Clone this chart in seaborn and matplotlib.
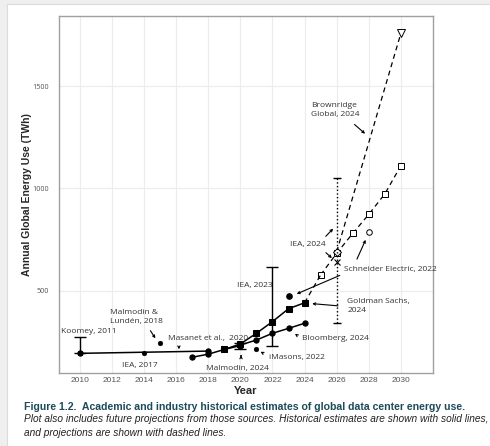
import matplotlib
matplotlib.use('Agg')
import matplotlib.pyplot as plt
from matplotlib.patches import Rectangle
import seaborn as sns
import pandas as pd

# historical estimates (solid lines)
masanet_years = [2010, 2018]
masanet_twh = [194, 205]
iea2017_years = [2014]
iea2017_twh = [195]
koomey_years = [2010]
koomey_twh = [196]
koomey_high = [272]
lunden_years = [2015]
lunden_twh = [245]
malmodin_years = [2017, 2018, 2019, 2020]
malmodin_twh = [175, 190, 213, 232]
malmodin_err = [213, 244]
iea2023_years = [2019, 2020, 2021, 2022, 2023, 2024]
iea2023_twh = [213, 240, 292, 349, 412, 441]
iea2023_range = [228, 617]
bloomberg_years = [2020, 2021, 2022, 2023, 2024]
bloomberg_twh = [235, 259, 292, 316, 341]
imasons_years = [2021]
imasons_twh = [213]
schneider_years = [2023, 2028]
schneider_twh = [474, 789]

# projections (dashed lines)
goldman_years = [2024, 2025, 2026, 2027, 2028, 2029, 2030]
goldman_twh = [441, 577, 683, 780, 873, 973, 1111]
brownridge_years = [2026, 2030]
brownridge_twh = [690, 1758]
iea2024_years = [2026]
iea2024_twh = [642]
iea2024_range = [341, 1049]

sns.set_theme(style='whitegrid')
ann_font = ['Liberation Sans Narrow', 'Open Sans', 'DejaVu Sans']
plt.rcParams['font.family'] = ['Liberation Sans', 'DejaVu Sans']

fig = plt.figure(figsize=(4.9, 4.46), dpi=100)
fig.patch.set_facecolor('#efefef')
fig.patches.append(Rectangle((7 / 490, 0), 1, 1 - 4 / 446, transform=fig.transFigure,
                             facecolor='white', edgecolor='#dcdcdc', lw=0.8, zorder=-1))
ax = fig.add_axes([59 / 490, 1 - 373 / 446, 374 / 490, 357 / 446])
ax.set_facecolor('white')

k = dict(color='black', ax=ax, legend=False)
sns.lineplot(x=masanet_years, y=masanet_twh, marker='o', markersize=3.8, lw=1.1, mec='black', **k)
sns.scatterplot(x=iea2017_years + koomey_years + lunden_years + imasons_years,
                y=iea2017_twh + koomey_twh + lunden_twh + imasons_twh,
                s=12, color='black', edgecolor='black', ax=ax, zorder=5)
sns.lineplot(x=malmodin_years, y=malmodin_twh, marker='o', markersize=3.8, lw=1.1, mec='black', **k)
sns.lineplot(x=iea2023_years, y=iea2023_twh, marker='s', markersize=4.3, lw=1.1, mec='black', **k)
sns.lineplot(x=bloomberg_years, y=bloomberg_twh, marker='o', markersize=3.8, lw=1.1, mec='black', **k)

sns.lineplot(x=goldman_years[1:], y=goldman_twh[1:], marker='s', markersize=4.5, lw=0.9,
             linestyle=(0, (4, 3)), mfc='white', mec='black', mew=0.7, **k)
sns.lineplot(x=goldman_years[:2], y=goldman_twh[:2], lw=0.9, linestyle=(0, (4, 3)), **k)
sns.lineplot(x=brownridge_years, y=brownridge_twh, lw=0.9, linestyle=(0, (4, 3)), **k)
ax.plot(brownridge_years[-1], brownridge_twh[-1], marker='v', ms=5.5, mfc='white', mec='black', mew=0.7)
ax.plot(brownridge_years[0], brownridge_twh[0], marker='D', ms=3.8, mfc='white', mec='black', mew=0.7)
ax.plot(schneider_years[0], schneider_twh[0], 'o', ms=3.8, color='black')
ax.plot(schneider_years[1], schneider_twh[1], 'o', ms=4, mfc='white', mec='black', mew=0.7)

# error bars
ax.errorbar(koomey_years, koomey_twh, yerr=[[0], [koomey_high[0] - koomey_twh[0]]],
            fmt='none', ecolor='black', elinewidth=1, capsize=4)
ax.errorbar([2020], [malmodin_twh[-1]], yerr=[[malmodin_twh[-1] - malmodin_err[0]], [malmodin_err[1] - malmodin_twh[-1]]],
            fmt='none', ecolor='black', elinewidth=0.8, capsize=4)
mid = sum(iea2023_range) / 2
ax.errorbar([2022], [mid], yerr=(iea2023_range[1] - iea2023_range[0]) / 2,
            fmt='none', ecolor='black', elinewidth=1, capsize=4)
mid = sum(iea2024_range) / 2
eb = ax.errorbar(iea2024_years, [mid], yerr=(iea2024_range[1] - iea2024_range[0]) / 2,
                 fmt='none', ecolor='black', elinewidth=1, capsize=3)
eb[2][0].set_linestyle(':')
ax.plot(iea2024_years, iea2024_twh, marker='x', ms=4, color='black', mew=0.8)

# annotations
def label(txt, x, y, ha='left', arrow=None):
    ax.text(x, y, txt, ha=ha, va='center', fontsize=6, color='#333333', family=ann_font,
            linespacing=1.5)
    if arrow:
        (x0, y0), (x1, y1) = arrow
        ax.annotate('', xy=(x1, y1), xytext=(x0, y0),
                    arrowprops=dict(arrowstyle='->', lw=0.8, color='black', mutation_scale=4))

label('Koomey, 2011', 2008.85, 303)
label('Malmodin &\nLundén, 2018', 2011.9, 371, arrow=((2014.3, 316), (2014.8, 256)))
label('IEA, 2017', 2013.75, 135, ha='center')
label('Masanet et al.,  2020', 2015.46, 267, arrow=((2016.17, 240), (2016.17, 200)))
label('Malmodin, 2024', 2019.8, 120, ha='center', arrow=((2020.04, 168), (2020.04, 198)))
label('iMasons, 2022', 2021.77, 173, arrow=((2021.56, 189), (2021.1, 208)))
label('IEA, 2023', 2020.875, 524, ha='center')
label('Bloomberg, 2024', 2023.85, 267, arrow=((2023.65, 275), (2023.4, 290)))
label('Goldman Sachs,\n2024', 2026.67, 425, arrow=((2026.25, 425), (2024.3, 438)))
label('Schneider Electric, 2022', 2026.46, 605, arrow=((2026.35, 580), (2023.35, 479)))
label('', 0, 0, arrow=((2027.19, 642), (2027.875, 761)))
label('IEA, 2024', 2024.22, 727, ha='center', arrow=((2025.2, 695), (2025.83, 650)))
label('', 0, 0, arrow=((2025.2, 756), (2025.9, 813)))
label('Brownridge\nGlobal, 2024', 2024.4, 1384, arrow=((2026.98, 1321), (2027.9, 1258)))

ax.set_xlim(2008.7, 2032)
ax.set_ylim(98, 1842)
ax.set_xticks(range(2010, 2031, 2))
ax.set_yticks([500, 1000, 1500])
ax.grid(True, color='#ececec', lw=0.8)
for s in ax.spines.values():
    s.set_color('#a0a0a0')
    s.set_linewidth(1)
ax.tick_params(labelsize=6, colors='#555555', length=0, pad=3)
ax.tick_params(axis='y', labelsize=5.2, pad=7.5)
for t in ax.get_yticklabels():
    t.set_family(ann_font)
ax.set_xlabel('Year', fontsize=8, fontweight='bold', labelpad=1)
ax.set_ylabel('Annual Global Energy Use (TWh)', fontsize=7.5, fontweight='bold')
ax.yaxis.set_label_coords(-0.072, 0.5)

fig.text(24 / 490, 1 - 407 / 446,
         'Figure 1.2.  Academic and industry historical estimates of global data center energy use.',
         fontsize=7.6, fontweight='bold', color='#1e4b5a', va='center')
fig.text(24 / 490, 1 - 419 / 446,
         'Plot also includes future projections from those sources. Historical estimates are shown with solid lines,',
         fontsize=7.3, style='italic', color='#222222', va='center')
fig.text(24 / 490, 1 - 433 / 446, 'and projections are shown with dashed lines.',
         fontsize=7.3, style='italic', color='#222222', va='center')

fig.savefig('out.png', dpi=100, facecolor=fig.get_facecolor())
